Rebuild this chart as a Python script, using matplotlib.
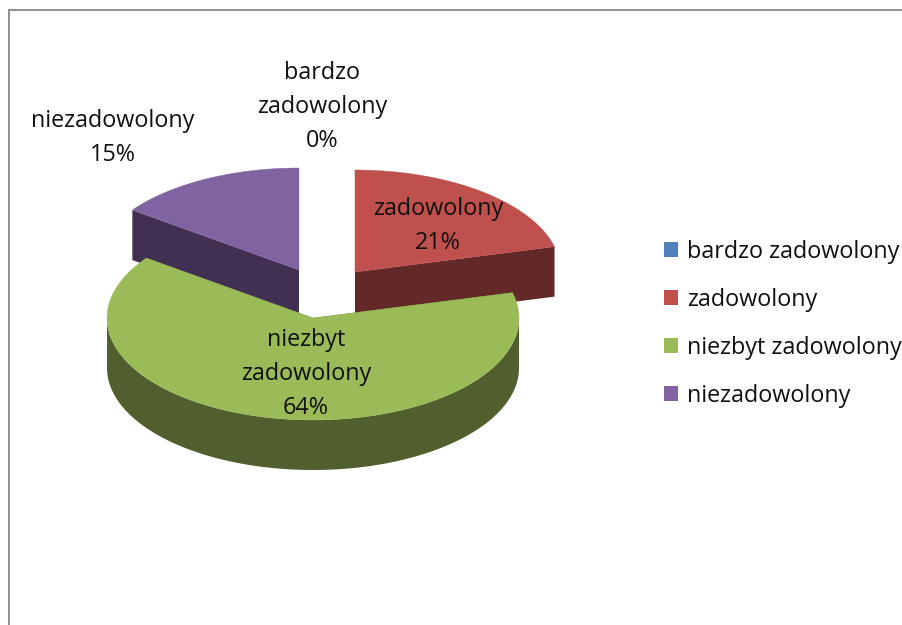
import numpy as np
import matplotlib
matplotlib.use("Agg")
import matplotlib.pyplot as plt
from matplotlib.patches import Polygon, Patch

# Data
categories = ["bardzo zadowolony", "zadowolony", "niezbyt zadowolony", "niezadowolony"]
percent_values = [0, 21, 64, 15]
data_label_text = ["bardzo\nzadowolony", "zadowolony", "niezbyt\nzadowolony", "niezadowolony"]

# Style
top_colors = ["#4F81BD", "#C0504D", "#9BBB59", "#8064A2"]
side_colors = ["#254061", "#622928", "#505F2D", "#413051"]
slice_centers = [(327, 270), (355, 272), (313, 318), (299, 270)]
label_centers = [(322, 107), (438, 226), (306, 374), (113, 138)]
RX, RY, DEPTH = 206, 102, 50
draw_order = [0, 3, 1, 2]
FS = 16.8

plt.rcParams["font.family"] = ["Open Sans", "DejaVu Sans"]
fig = plt.figure(figsize=(9.03, 6.25), dpi=100, facecolor="white")
ax = fig.add_axes([0, 0, 1, 1])
ax.set_xlim(0, 903)
ax.set_ylim(625, 0)
ax.axis("off")

# chart frame (left and top edges visible)
ax.plot([9, 9, 903], [625, 10, 10], color="#8E8E8E", lw=1.4, solid_joinstyle="miter", zorder=1)

fractions = np.array(percent_values, dtype=float) / sum(percent_values)
edges = np.concatenate([[0], np.cumsum(fractions)]) * 2 * np.pi


def rim(i, t):
    cx, cy = slice_centers[i]
    return np.column_stack([cx + RX * np.sin(t), cy - RY * np.cos(t)])


z = 2
for i in draw_order:
    t0, t1 = edges[i], edges[i + 1]
    if t1 <= t0:
        continue
    cx, cy = slice_centers[i]
    t = np.linspace(t0, t1, 240)
    arc = rim(i, t)
    down = np.array([0, DEPTH])
    apex = np.array([[cx, cy]])
    # radial walls
    for tip in (arc[0], arc[-1]):
        wall = np.vstack([apex, [tip], [tip + down], apex + down])
        ax.add_patch(Polygon(wall, closed=True, fc=side_colors[i], ec="none", zorder=z))
    # outer wall (front half only)
    vis = t[(t >= np.pi / 2) & (t <= 3 * np.pi / 2)]
    if len(vis):
        a = rim(i, vis)
        ax.add_patch(Polygon(np.vstack([a, (a + down)[::-1]]), closed=True,
                             fc=side_colors[i], ec="none", zorder=z))
    # top face
    ax.add_patch(Polygon(np.vstack([apex, arc]), closed=True, fc=top_colors[i],
                         ec=top_colors[i], lw=0.3, zorder=z + 1))
    z += 2

# data labels
for lab, pct, (x, y) in zip(data_label_text, percent_values, label_centers):
    ax.text(x, y, f"{lab}\n{pct}%", ha="center", va="center", ma="center",
            fontsize=FS, color="#111111", linespacing=1.55, zorder=50)

# legend
handles = [Patch(fc=c, ec="none", label=n) for c, n in zip(top_colors, categories)]
ax.legend(handles=handles, loc="upper left", bbox_to_anchor=(664 / 903, 1 - 240 / 625),
          borderaxespad=0, borderpad=0, frameon=False, fontsize=FS,
          handlelength=0.6, handleheight=0.6, handletextpad=0.39, labelspacing=1.03,
          labelcolor="#111111")

fig.savefig("out.png", dpi=100, facecolor="white")
